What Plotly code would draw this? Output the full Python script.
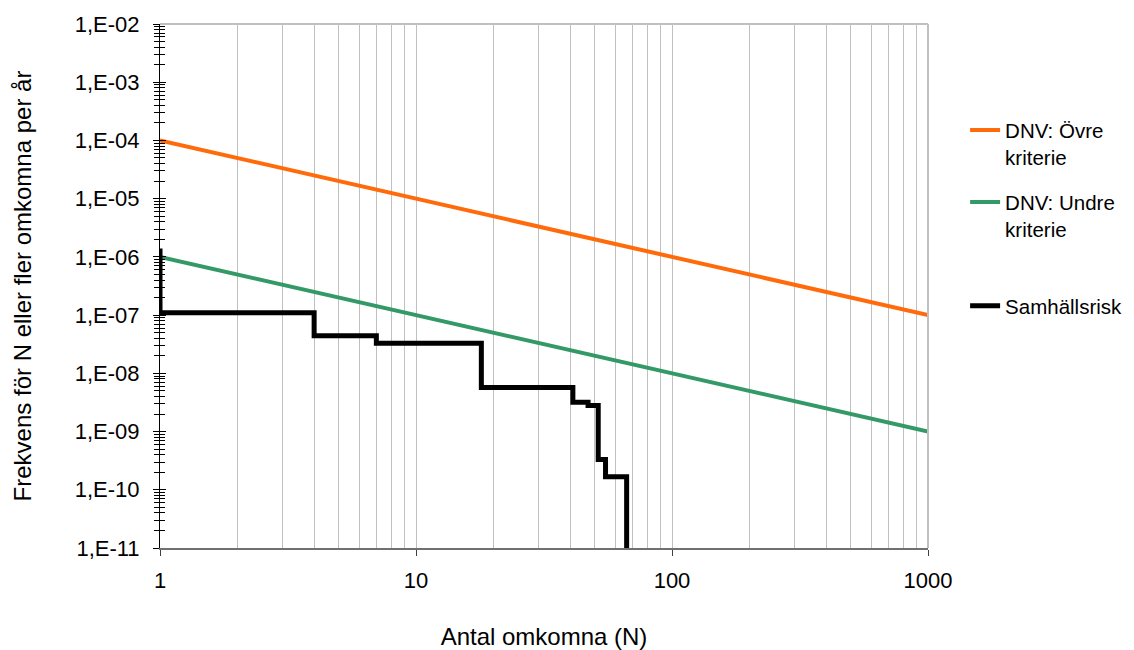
import plotly.graph_objects as go

# ---- data ----
crit_N = [1, 1000]
upper_F = [1e-4, 1e-7]
lower_F = [1e-6, 1e-9]

risk_N = [1, 1, 4, 7, 18, 41, 47, 51.5, 55, 66.5]
risk_F = [1.4e-6, 1.1e-7, 4.4e-8, 3.3e-8, 5.7e-9, 3.2e-9, 2.8e-9, 3.3e-10, 1.67e-10, 1e-12]

y_tickvals = [1e-11, 1e-10, 1e-9, 1e-8, 1e-7, 1e-6, 1e-5, 1e-4, 1e-3, 1e-2]
y_ticktext = ["1,E-11", "1,E-10", "1,E-09", "1,E-08", "1,E-07", "1,E-06",
              "1,E-05", "1,E-04", "1,E-03", "1,E-02"]
x_tickvals = [1, 10, 100, 1000]
x_ticktext = ["1", "10", "100", "1000"]

FONT = "Liberation Sans, Arial, sans-serif"
TICK_FS = 22
TITLE_FS = 24
LEG_FS = 20.5

fig = go.Figure()
fig.add_trace(go.Scatter(x=crit_N, y=upper_F, mode="lines", name="DNV: Övre<br>kriterie",
                         line=dict(color="#FF6A0A", width=4), legend="legend"))
fig.add_trace(go.Scatter(x=crit_N, y=lower_F, mode="lines", name="DNV: Undre<br>kriterie",
                         line=dict(color="#339966", width=4), legend="legend2"))
fig.add_trace(go.Scatter(x=risk_N, y=risk_F, mode="lines", name="Samhällsrisk",
                         line=dict(color="#000000", width=5, shape="hv"), legend="legend3"))
# helper axis for crossing tick marks (no data)
fig.add_trace(go.Scatter(x=[], y=[], yaxis="y2", showlegend=False, hoverinfo="skip"))

legend_common = dict(font=dict(family=FONT, size=LEG_FS, color="#000000"),
                     bgcolor="rgba(0,0,0,0)", xanchor="left", yanchor="middle",
                     valign="top", borderwidth=0, visible=True,
                     xref="container", yref="container")

LEG_X = 0.850

fig.update_layout(
    width=1126, height=642,
    showlegend=True,
    margin=dict(l=152, r=206, t=16, b=102),
    paper_bgcolor="white", plot_bgcolor="white",
    font=dict(family=FONT, size=TICK_FS, color="#000000"),
    xaxis=dict(type="log", range=[0, 3], tickvals=x_tickvals, ticktext=x_ticktext,
               showgrid=True, gridcolor="#C0C0C0", gridwidth=1,
               minor=dict(dtick="D1", showgrid=True, gridcolor="#C0C0C0", gridwidth=1, ticks=""),
               ticks="outside", ticklen=6, tickcolor="#404040",
               showline=True, linecolor="#707070", linewidth=2,
               tickfont=dict(family=FONT, size=TICK_FS), ticklabelstandoff=6,
               title=dict(text="Antal omkomna (N)", font=dict(family=FONT, size=TITLE_FS), standoff=38),
               automargin=False, zeroline=False),
    yaxis=dict(type="log", range=[-11, -2], tickvals=y_tickvals, ticktext=y_ticktext,
               showgrid=False, ticks="outside", ticklen=6, tickcolor="#000000",
               minor=dict(dtick="D1", ticks="outside", ticklen=5, tickcolor="#000000", showgrid=False),
               showline=True, linecolor="#000000", linewidth=1,
               tickfont=dict(family=FONT, size=TICK_FS), ticklabelstandoff=9,
               title=dict(text="Frekvens för N eller fler omkomna per år",
                          font=dict(family=FONT, size=TITLE_FS), standoff=36),
               automargin=False, zeroline=False),
    yaxis2=dict(type="log", range=[-11, -2], overlaying="y", side="left",
                tickvals=y_tickvals, showticklabels=False, showgrid=False,
                ticks="inside", ticklen=6, tickcolor="#000000",
                minor=dict(dtick="D1", ticks="inside", ticklen=5, tickcolor="#000000", showgrid=False),
                showline=False, zeroline=False),
    legend=dict(x=LEG_X, y=0.7886, **legend_common),
    legend2=dict(x=LEG_X, y=0.6765, **legend_common),
    legend3=dict(x=LEG_X, y=0.5361, **legend_common),
    shapes=[
        dict(type="line", xref="paper", yref="paper", x0=0, x1=1, y0=1, y1=1,
             line=dict(color="#C0C0C0", width=2)),
        dict(type="line", xref="paper", yref="paper", x0=1, x1=1, y0=0, y1=1,
             line=dict(color="#C0C0C0", width=2)),
    ],
)

fig.write_html("out.html")
